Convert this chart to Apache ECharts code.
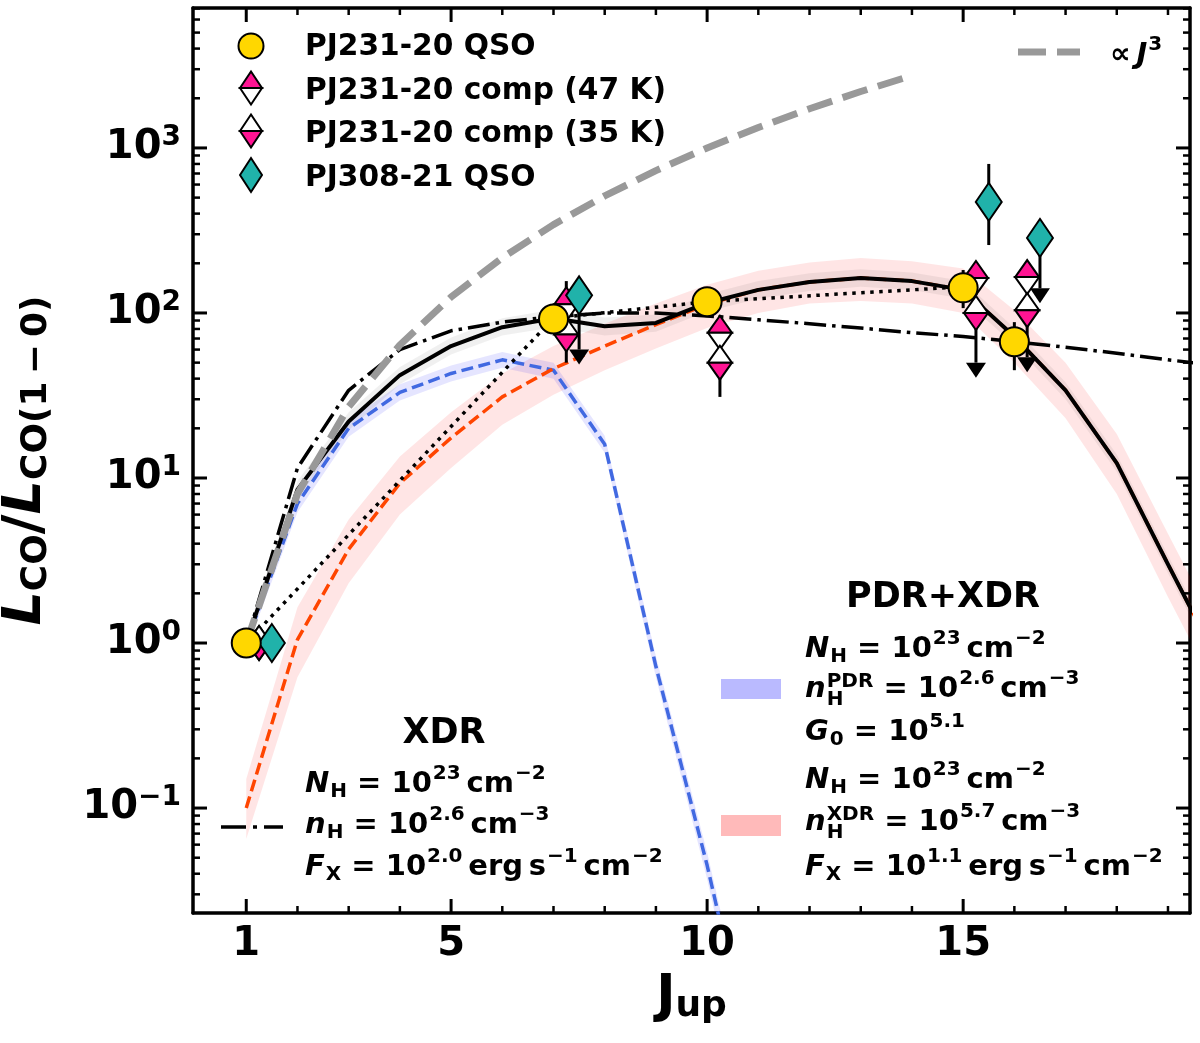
<!DOCTYPE html>
<html>
<head>
<meta charset="utf-8">
<script src="https://cdn.jsdelivr.net/npm/echarts@6.0.0/dist/echarts.min.js"></script>
<style>
  html, body { margin: 0; padding: 0; background: #fff; }
  #chart { width: 1200px; height: 1043px; }
</style>
</head>
<body>
<div id="chart"></div>
<script>
// ---- model curves (J_up = 1..20) ----
const jModel = [1, 2, 3, 4, 5, 6, 7, 8, 9, 10, 11, 12, 13, 14, 15, 16, 17, 18, 19, 20];
const totalModel = [1, 8.5, 22, 42, 63, 82, 93, 83, 87, 115, 138, 154, 163, 156, 138, 72, 34, 12.3, 3.0, 0.75];
const totalLow = [0.88, 7.5, 19.5, 37, 56, 73, 82, 73, 77, 102, 122, 136, 144, 138, 122, 64, 30, 10.9, 2.65, 0.66];
const totalHigh = [1.13, 9.6, 25, 47, 71, 93, 105, 94, 98, 130, 156, 174, 184, 176, 156, 81, 38, 13.9, 3.4, 0.85];
const xdrModel = [0.1, 1.05, 3.7, 9.3, 17.5, 31, 46, 63, 85, 113, 138, 154, 163, 156, 138, 72, 34, 12.3, 3.0, 0.75];
const xdrLow = [0.065, 0.62, 2.3, 6.0, 11.5, 21, 32, 45, 61, 81, 100, 114, 118, 114, 100, 50, 23, 8.0, 1.9, 0.48];
const xdrHigh = [0.15, 1.65, 5.6, 13.5, 25, 43, 63, 86, 114, 148, 180, 202, 215, 206, 186, 104, 50, 18.5, 4.6, 1.15];
const xdrOnlyModel = [1, 11.5, 34, 60, 78, 88, 95, 100, 100, 96, 91, 86, 81, 76, 72, 67, 62, 57, 52, 48];

const pdrJ = [1, 2, 3, 4, 5, 6, 7, 8, 9, 10, 11];
const pdrModel = [1, 7, 20, 33, 43, 52, 45, 16, 0.72, 0.045, 0.002];
const pdrLow = [0.9, 6.2, 17.8, 29.5, 38.5, 46.5, 40, 14.2, 0.62, 0.037, 0.0016];
const pdrHigh = [1.11, 7.8, 22.4, 37, 48, 58, 50, 18, 0.83, 0.054, 0.0024];

const j3J = [1, 2, 3, 4, 5, 6, 7, 8, 9, 10, 11, 12, 13, 14];
const j3Model = [1, 8, 27, 64, 125, 216, 343, 512, 729, 1000, 1331, 1728, 2197, 2744];

const dottedJ = [1, 7, 10, 15];
const dottedModel = [1, 93, 117, 144];

// ---- observations ----
const qsoJ = [1, 7, 10, 15, 16];
const qsoVal = [1, 92, 117, 142, 67];
const qsoLo = [1, 92, 117, 107, 45];
const qsoHi = [1, 92, 117, 182, 88];

const comp47J = [1.25, 7.25, 10.25, 15.25, 16.25];
const comp47Val = [1, 113, 76, 163, 165];
const comp47Lo = [1, 79, 56, 128, 120];
const comp47Hi = [1, 156, 97, 195, 204];

const comp35J = [1.25, 7.25, 10.25, 15.25, 16.25];
const comp35Val = [1, 74, 50, 100, 104];
const comp35Lo = [1, 50, 31, 50, 54];
const comp35Hi = [1, 101, 64, 100, 104];
const comp35UpLim = [0, 0, 0, 1, 1];

const pj308J = [1.5, 7.5, 15.5, 16.5];
const pj308Val = [1, 128, 471, 285];
const pj308Lo = [1, 60, 258, 141];
const pj308Hi = [1, 128, 800, 285];
const pj308UpLim = [0, 1, 0, 1];

// ---- ticks ----
const xMajor = [1, 5, 10, 15];
const xMinor = [2, 3, 4, 6, 7, 8, 9, 11, 12, 13, 14, 16, 17, 18, 19];
const yMajor = [0.1, 1, 10, 100, 1000];
const yMinor = [0.03, 0.04, 0.05, 0.06, 0.07, 0.08, 0.09,
  0.2, 0.3, 0.4, 0.5, 0.6, 0.7, 0.8, 0.9,
  2, 3, 4, 5, 6, 7, 8, 9,
  20, 30, 40, 50, 60, 70, 80, 90,
  200, 300, 400, 500, 600, 700, 800, 900,
  2000, 3000, 4000, 5000, 6000, 7000];

const FONT = '"DejaVu Sans", sans-serif';
const PINK = '#FF1493';
const GOLD = '#FFD700';
const TEAL = '#20B2AA';

const X_MIN = -0.04, X_MAX = 19.43;
const Y_MIN = 0.02312, Y_MAX = 7047;

const zip = (xs, ys) => xs.map((x, i) => [x, ys[i]]);

// text helpers for the math-style annotations
const mctx = document.createElement('canvas').getContext('2d');
const fontStr = (size, it) => (it ? 'italic ' : '') + 'bold ' + size + 'px ' + FONT;
function textW(t, size, it) {
  mctx.font = fontStr(size, it);
  return mctx.measureText(t).width;
}
function midOff(size) {
  mctx.font = fontStr(size, false);
  mctx.textBaseline = 'middle';
  const m = mctx.measureText('H');
  mctx.textBaseline = 'alphabetic';
  let d = -m.alphabeticBaseline;
  if (!(d > 0.1 * size && d < 0.5 * size)) d = 0.3 * size;
  return d;
}
function mathLine(x, base, tokens, fs, anchor) {
  const small = Math.round(fs * 0.7);
  const items = [];
  let cx = 0;
  tokens.forEach((tok) => {
    const k = tok[0];
    if (k === 'rm' || k === 'it') {
      items.push({ t: tok[1], s: fs, it: k === 'it', x: cx, b: 0 });
      cx += textW(tok[1], fs, k === 'it');
    } else if (k === 'sub') {
      items.push({ t: tok[1], s: small, it: false, x: cx + 1, b: fs * 0.17 });
      cx += textW(tok[1], small, false) + 1;
    } else if (k === 'sup') {
      items.push({ t: tok[1], s: small, it: false, x: cx + 1, b: -fs * 0.45 });
      cx += textW(tok[1], small, false) + 1;
    } else if (k === 'subsup') {
      items.push({ t: tok[1], s: small, it: false, x: cx + 1, b: fs * 0.27 });
      items.push({ t: tok[2], s: small, it: false, x: cx + 1, b: -fs * 0.36 });
      cx += Math.max(textW(tok[1], small, false), textW(tok[2], small, false)) + 1;
    }
  });
  const x0 = anchor === 'center' ? x - cx / 2 : x;
  return items.map((it) => ({
    type: 'text', z: 100,
    x: x0 + it.x, y: base + it.b - midOff(it.s),
    style: {
      text: it.t, font: fontStr(it.s, it.it), fill: '#000',
      align: 'left', verticalAlign: 'middle', textAlign: 'left', textVerticalAlign: 'middle'
    }
  }));
}

function bandSeries(xs, lo, hi, color, z) {
  return {
    type: 'custom', z: z, clip: true, silent: true,
    data: [[xs[0], lo[0]]],
    renderItem: function (params, api) {
      const pts = [];
      for (let i = 0; i < xs.length; i++) pts.push(api.coord([xs[i], hi[i]]));
      for (let i = xs.length - 1; i >= 0; i--) pts.push(api.coord([xs[i], lo[i]]));
      return { type: 'polygon', shape: { points: pts }, style: { fill: color } };
    }
  };
}

function halfDiamond(x, y, w, h, topFill, botFill) {
  return [
    { type: 'polygon', shape: { points: [[x - w, y], [x, y - h], [x + w, y]] },
      style: { fill: topFill, stroke: '#000', lineWidth: 2 } },
    { type: 'polygon', shape: { points: [[x - w, y], [x, y + h], [x + w, y]] },
      style: { fill: botFill, stroke: '#000', lineWidth: 2 } }
  ];
}

function halfDiamondSeries(xs, ys, topFill, botFill, z) {
  return {
    type: 'custom', z: z, silent: true,
    data: zip(xs, ys),
    renderItem: function (params, api) {
      const p = api.coord([api.value(0), api.value(1)]);
      return { type: 'group', children: halfDiamond(p[0], p[1], 12, 17, topFill, botFill) };
    }
  };
}

function errorSeries(xs, lo, hi, uplim, z) {
  return {
    type: 'custom', z: z, silent: true,
    data: xs.map((x, i) => [x, lo[i], hi[i], uplim ? uplim[i] : 0]),
    renderItem: function (params, api) {
      const x = api.value(0);
      const a = api.coord([x, api.value(2)]);
      const b = api.coord([x, api.value(1)]);
      const kids = [{ type: 'line', shape: { x1: a[0], y1: a[1], x2: b[0], y2: b[1] },
        style: { stroke: '#000', lineWidth: 3 } }];
      if (api.value(3)) {
        kids.push({ type: 'polygon',
          shape: { points: [[b[0] - 10, b[1]], [b[0] + 10, b[1]], [b[0], b[1] + 15]] },
          style: { fill: '#000' } });
      }
      return { type: 'group', children: kids };
    }
  };
}

function lineSeries(xs, ys, color, width, dash, z) {
  return {
    type: 'line', z: z, silent: true, symbol: 'none', clip: true,
    data: zip(xs, ys),
    lineStyle: { color: color, width: width, type: dash, cap: 'butt', join: 'round' }
  };
}

function xAxisDef(pos) {
  return {
    type: 'value', min: X_MIN, max: X_MAX, position: pos,
    splitLine: { show: false },
    axisLine: { show: true, onZero: false, lineStyle: { color: '#000', width: 3.5 } },
    axisTick: { show: false },
    axisLabel: { show: false }
  };
}
function yAxisDef(pos) {
  return {
    type: 'log', logBase: 10, min: Y_MIN, max: Y_MAX, position: pos,
    splitLine: { show: false },
    axisLine: { show: true, onZero: false, lineStyle: { color: '#000', width: 3.5 } },
    axisTick: { show: false },
    axisLabel: { show: false }
  };
}

const xBottom = xAxisDef('bottom');
xBottom.axisLabel = {
  show: true, customValues: xMajor, margin: 12,
  fontSize: 40, fontWeight: 'bold', fontFamily: FONT, color: '#000'
};
xBottom.name = '{J|J}{u|up}';
xBottom.nameLocation = 'middle';
xBottom.nameGap = 56;
xBottom.nameTextStyle = {
  rich: {
    J: { fontSize: 52, fontWeight: 'bold', fontFamily: FONT, color: '#000', lineHeight: 56 },
    u: { fontSize: 36, fontWeight: 'bold', fontFamily: FONT, color: '#000', lineHeight: 34, verticalAlign: 'bottom' }
  }
};

const yLeft = yAxisDef('left');
yLeft.axisLabel = {
  show: true, customValues: yMajor, margin: 12,
  formatter: function (v) {
    const e = Math.round(Math.log10(v));
    return '{b|10}{s|' + (e < 0 ? '\u2212' : '') + Math.abs(e) + '}';
  },
  rich: {
    b: { fontSize: 40, fontWeight: 'bold', fontFamily: FONT, color: '#000', lineHeight: 48 },
    s: { fontSize: 28, fontWeight: 'bold', fontFamily: FONT, color: '#000', lineHeight: 26, verticalAlign: 'top' }
  }
};
yLeft.name = '{L|L}{s|CO}{m|/}{L|L}{s|CO(1\u2009\u2212\u20090)}';
yLeft.nameLocation = 'middle';
yLeft.nameRotate = 90;
yLeft.nameGap = 138;
yLeft.nameTextStyle = {
  rich: {
    L: { fontSize: 54, fontWeight: 'bold', fontStyle: 'italic', fontFamily: FONT, color: '#000', lineHeight: 58 },
    m: { fontSize: 54, fontWeight: 'bold', fontFamily: FONT, color: '#000', lineHeight: 58 },
    s: { fontSize: 36, fontWeight: 'bold', fontFamily: FONT, color: '#000', lineHeight: 36, verticalAlign: 'bottom' }
  }
};

// ---- legend and annotation graphics ----
const graphics = [];
const legendRows = [
  ['PJ231-20 QSO', 55],
  ['PJ231-20 comp (47 K)', 98.5],
  ['PJ231-20 comp (35 K)', 142],
  ['PJ308-21 QSO', 185.5]
];
legendRows.forEach((r) => graphics.push(...mathLine(305, r[1], [['rm', r[0]]], 29.7)));
graphics.push({ type: 'circle', z: 100, shape: { cx: 251, cy: 46, r: 12.5 },
  style: { fill: GOLD, stroke: '#000', lineWidth: 2 } });
graphics.push({ type: 'group', z: 100, children: halfDiamond(251, 88, 11, 16.5, PINK, '#fff') });
graphics.push({ type: 'group', z: 100, children: halfDiamond(251, 131, 11, 16.5, '#fff', PINK) });
graphics.push({ type: 'polygon', z: 100,
  shape: { points: [[240, 175], [251, 158], [262, 175], [251, 192]] },
  style: { fill: TEAL, stroke: '#000', lineWidth: 2 } });

// proportional-to-J^3 key
graphics.push({ type: 'line', z: 100, shape: { x1: 1018, y1: 52, x2: 1080, y2: 52 },
  style: { stroke: '#999999', lineWidth: 7, lineDash: [28, 11] } });
graphics.push(...mathLine(1110, 63, [['rm', '\u221D\u2009'], ['it', 'J'], ['sup', '3']], 29));

// XDR block
graphics.push(...mathLine(444, 743, [['rm', 'XDR']], 35, 'center'));
graphics.push({ type: 'line', z: 100, shape: { x1: 221, y1: 827, x2: 283, y2: 827 },
  style: { stroke: '#000', lineWidth: 3.5, lineDash: [25, 7, 4, 7] } });
graphics.push(...mathLine(305, 792, [['it', 'N'], ['sub', 'H'], ['rm', ' = 10'], ['sup', '23'], ['rm', '\u2009cm'], ['sup', '\u22122']], 29));
graphics.push(...mathLine(305, 833, [['it', 'n'], ['sub', 'H'], ['rm', ' = 10'], ['sup', '2.6'], ['rm', '\u2009cm'], ['sup', '\u22123']], 29));
graphics.push(...mathLine(305, 875, [['it', 'F'], ['sub', 'X'], ['rm', ' = 10'], ['sup', '2.0'], ['rm', '\u2009erg\u2009s'], ['sup', '\u22121'], ['rm', '\u2009cm'], ['sup', '\u22122']], 29));

// PDR+XDR block
graphics.push(...mathLine(943, 607, [['rm', 'PDR+XDR']], 35, 'center'));
graphics.push({ type: 'rect', z: 100, shape: { x: 721, y: 679, width: 60, height: 20 },
  style: { fill: 'rgba(0,0,255,0.27)' } });
graphics.push({ type: 'rect', z: 100, shape: { x: 721, y: 815, width: 60, height: 21 },
  style: { fill: 'rgba(255,0,0,0.27)' } });
graphics.push(...mathLine(805, 657, [['it', 'N'], ['sub', 'H'], ['rm', ' = 10'], ['sup', '23'], ['rm', '\u2009cm'], ['sup', '\u22122']], 29));
graphics.push(...mathLine(805, 697, [['it', 'n'], ['subsup', 'H', 'PDR'], ['rm', ' = 10'], ['sup', '2.6'], ['rm', '\u2009cm'], ['sup', '\u22123']], 29));
graphics.push(...mathLine(805, 740, [['it', 'G'], ['sub', '0'], ['rm', ' = 10'], ['sup', '5.1']], 29));
graphics.push(...mathLine(805, 788, [['it', 'N'], ['sub', 'H'], ['rm', ' = 10'], ['sup', '23'], ['rm', '\u2009cm'], ['sup', '\u22122']], 29));
graphics.push(...mathLine(805, 830, [['it', 'n'], ['subsup', 'H', 'XDR'], ['rm', ' = 10'], ['sup', '5.7'], ['rm', '\u2009cm'], ['sup', '\u22123']], 29));
graphics.push(...mathLine(805, 875, [['it', 'F'], ['sub', 'X'], ['rm', ' = 10'], ['sup', '1.1'], ['rm', '\u2009erg\u2009s'], ['sup', '\u22121'], ['rm', '\u2009cm'], ['sup', '\u22122']], 29));

const option = {
  animation: false,
  backgroundColor: '#fff',
  grid: { left: 193, right: 10, top: 8, bottom: 130, containLabel: false, outerBoundsMode: 'none' },
  xAxis: [xBottom, xAxisDef('top')],
  yAxis: [yLeft, yAxisDef('right')],
  series: [
    bandSeries(jModel, xdrLow, xdrHigh, 'rgba(255,0,0,0.1)', 1),
    bandSeries(pdrJ, pdrLow, pdrHigh, 'rgba(0,0,255,0.1)', 1),
    bandSeries(jModel, totalLow, totalHigh, 'rgba(0,0,0,0.06)', 1),
    lineSeries(pdrJ, pdrModel, '#4169E1', 3.5, [12, 5.5], 2),
    lineSeries(jModel, xdrModel, '#FF4500', 3.5, [12, 5.5], 2),
    lineSeries(jModel, xdrOnlyModel, '#000', 3.5, [22, 6, 3.5, 6], 3),
    lineSeries(dottedJ, dottedModel, '#000', 3.5, [3.5, 5.5], 3),
    lineSeries(jModel, totalModel, '#000', 4, 'solid', 3),
    lineSeries(j3J, j3Model, '#999999', 7, [26, 11], 4),
    errorSeries(qsoJ, qsoLo, qsoHi, null, 5),
    errorSeries(comp47J, comp47Lo, comp47Hi, null, 5),
    errorSeries(comp35J, comp35Lo, comp35Hi, comp35UpLim, 5),
    errorSeries(pj308J, pj308Lo, pj308Hi, pj308UpLim, 5),
    halfDiamondSeries(comp47J, comp47Val, PINK, '#fff', 6),
    halfDiamondSeries(comp35J, comp35Val, '#fff', PINK, 6),
    {
      type: 'scatter', z: 7, silent: true, symbol: 'diamond', symbolSize: [26, 38],
      data: zip(pj308J, pj308Val),
      itemStyle: { color: TEAL, borderColor: '#000', borderWidth: 2, opacity: 1 }
    },
    {
      type: 'scatter', z: 8, silent: true, symbol: 'circle', symbolSize: 29,
      data: zip(qsoJ, qsoVal),
      itemStyle: { color: GOLD, borderColor: '#000', borderWidth: 2, opacity: 1 }
    }
  ]
};

const chart = echarts.init(document.getElementById('chart'), null, { renderer: 'canvas' });
chart.setOption(option);

// inward ticks on all four sides, positioned through the chart's own axes
const finder = { xAxisIndex: 0, yAxisIndex: 0 };
const corner0 = chart.convertToPixel(finder, [X_MIN, Y_MIN]);
const corner1 = chart.convertToPixel(finder, [X_MAX, Y_MAX]);
function tickLine(x1, y1, x2, y2, w) {
  return { type: 'line', z: 150, shape: { x1: x1, y1: y1, x2: x2, y2: y2 },
    style: { stroke: '#000', lineWidth: w } };
}
function addXTicks(values, len, w) {
  values.forEach((v) => {
    const px = chart.convertToPixel(finder, [v, 1])[0];
    graphics.push(tickLine(px, corner0[1], px, corner0[1] - len, w));
    graphics.push(tickLine(px, corner1[1], px, corner1[1] + len, w));
  });
}
function addYTicks(values, len, w) {
  values.forEach((v) => {
    const py = chart.convertToPixel(finder, [1, v])[1];
    graphics.push(tickLine(corner0[0], py, corner0[0] + len, py, w));
    graphics.push(tickLine(corner1[0], py, corner1[0] - len, py, w));
  });
}
addXTicks(xMajor, 14, 3);
addXTicks(xMinor, 7, 2.5);
addYTicks(yMajor, 14, 3);
addYTicks(yMinor, 7, 2.5);

chart.setOption({ graphic: graphics });
</script>
</body>
</html>
